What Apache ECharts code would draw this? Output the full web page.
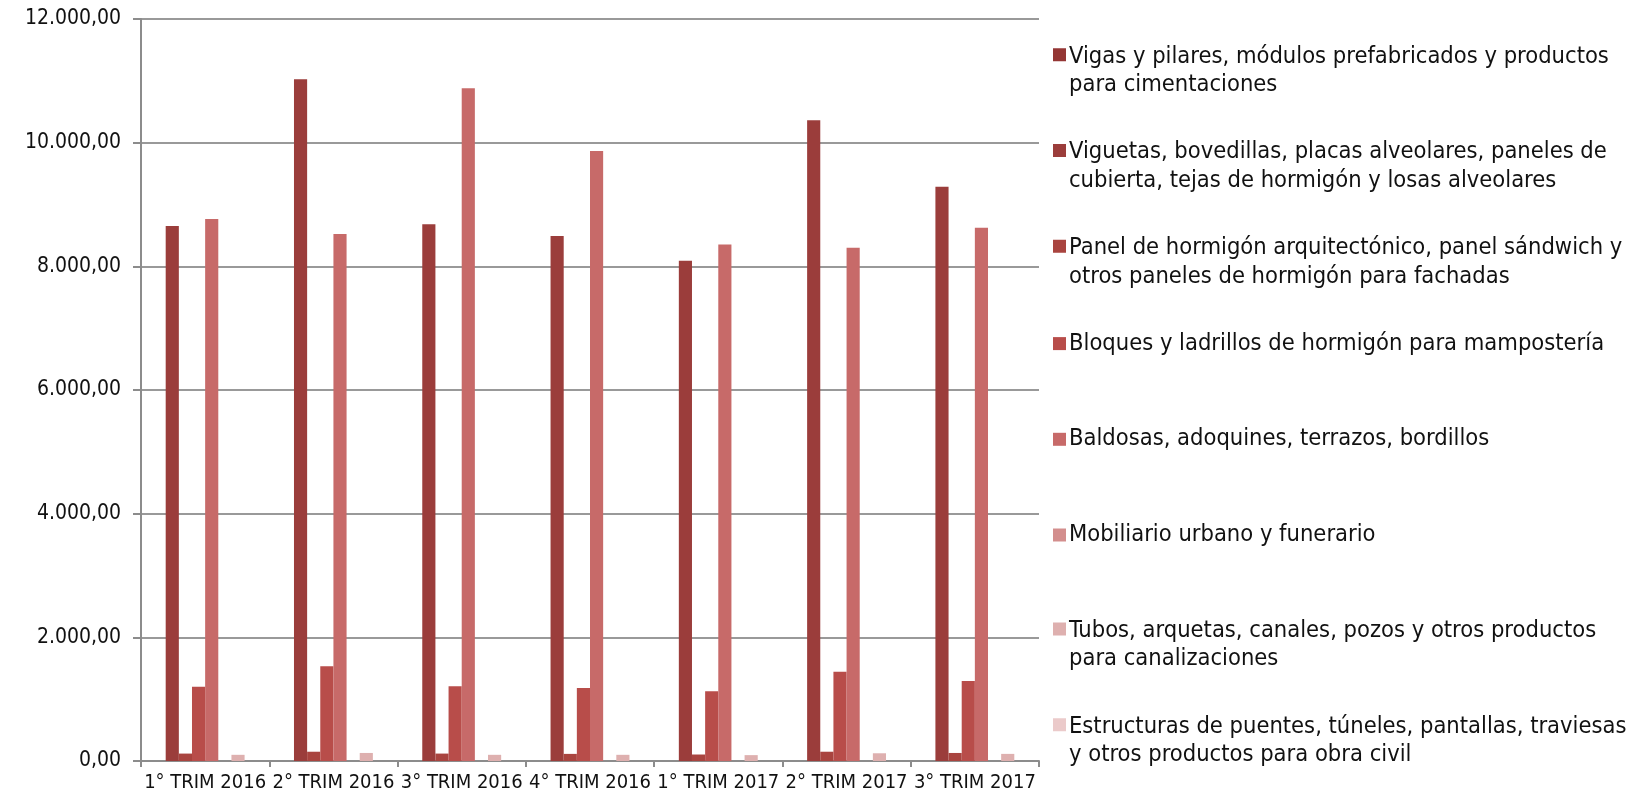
<!DOCTYPE html>
<html>
<head>
<meta charset="utf-8">
<script src="https://cdn.jsdelivr.net/npm/echarts@6/dist/echarts.min.js"></script>
<style>
html,body{margin:0;padding:0;background:#fff;}
#chart{width:1646px;height:799px;}
</style>
</head>
<body>
<div id="chart"></div>
<script>
var categories = ['1° TRIM 2016','2° TRIM 2016','3° TRIM 2016','4° TRIM 2016','1° TRIM 2017','2° TRIM 2017','3° TRIM 2017'];
var seriesNames = [
  'Vigas y pilares, módulos prefabricados y productos\npara cimentaciones',
  'Viguetas, bovedillas, placas alveolares, paneles de\ncubierta, tejas de hormigón y losas alveolares',
  'Panel de hormigón arquitectónico, panel sándwich y\notros paneles de hormigón para fachadas',
  'Bloques y ladrillos de hormigón para mampostería',
  'Baldosas, adoquines, terrazos, bordillos',
  'Mobiliario urbano y funerario',
  'Tubos, arquetas, canales, pozos y otros productos\npara canalizaciones',
  'Estructuras de puentes, túneles, pantallas, traviesas\ny otros productos para obra civil'
];
var vigas       = [0, 0, 0, 0, 0, 0, 0];
var viguetas    = [8652, 11025, 8680, 8491, 8090, 10362, 9288];
var paneles     = [120, 150, 120, 115, 105, 150, 130];
var bloques     = [1202, 1531, 1208, 1181, 1127, 1445, 1294];
var baldosas    = [8766, 8523, 10880, 9866, 8352, 8302, 8625];
var mobiliario  = [0, 0, 0, 0, 0, 0, 0];
var tubos       = [100, 130, 100, 100, 95, 125, 115];
var estructuras = [0, 0, 0, 0, 0, 0, 0];
var yTicks = [0, 2000, 4000, 6000, 8000, 10000, 12000];

var seriesData = [vigas, viguetas, paneles, bloques, baldosas, mobiliario, tubos, estructuras];
var colors = ['#943634','#9B3D3B','#A9443F','#B84D4A','#C76A69','#D38E8D','#DEB0AF','#EBCACA'];

function fmt(v){
  var s = Math.round(v).toString().replace(/\B(?=(\d{3})+(?!\d))/g, '.');
  return s + ',00';
}

var FONT = 'DejaVu Sans Condensed';
var lineH = 28.5;
var legends = seriesNames.map(function(name, i){
  var twoLine = name.indexOf('\n') >= 0;
  var h = twoLine ? lineH * 2 : lineH;
  return {
    data: [name],
    orient: 'vertical',
    left: 1048,
    top: 51.5 + 95.7 * i - lineH / 2,
    itemWidth: 13,
    itemHeight: twoLine ? h : 13,
    itemGap: 0,
    icon: twoLine ? 'path://M0,0L0.01,0 M0,6L13,6L13,19L0,19Z M0,57L0.01,57' : 'rect',
    symbolKeepAspect: false,
    selectedMode: false,
    textStyle: {fontFamily: FONT, fontSize: 23.5, color: '#111', lineHeight: lineH, padding: [0,0,0,-2]}
  };
});

var chart = echarts.init(document.getElementById('chart'), null, {renderer: 'canvas'});
chart.setOption({
  animation: false,
  color: colors,
  legend: legends,
  grid: {left: 141, right: 607, top: 19, bottom: 38, containLabel: false},
  xAxis: {
    type: 'category',
    data: categories,
    axisLine: {lineStyle: {color: '#8c8c8c', width: 2}},
    axisTick: {show: true, length: 6, lineStyle: {color: '#8c8c8c', width: 2}},
    axisLabel: {fontFamily: FONT, fontSize: 20, color: '#111', margin: 12, interval: 0}
  },
  yAxis: {
    type: 'value',
    min: yTicks[0],
    max: yTicks[yTicks.length - 1],
    interval: yTicks[1] - yTicks[0],
    axisLine: {show: true, lineStyle: {color: '#8c8c8c', width: 2}},
    axisTick: {show: true, length: 8, lineStyle: {color: '#8c8c8c', width: 2}},
    splitLine: {lineStyle: {color: '#999999', width: 2}},
    axisLabel: {fontFamily: FONT, fontSize: 21, color: '#111', margin: 20, formatter: fmt}
  },
  series: seriesData.map(function(d, i){
    return {
      name: seriesNames[i],
      type: 'bar',
      data: d,
      barGap: '0%',
      barCategoryGap: '18%',
      itemStyle: {color: colors[i], borderWidth: 0}
    };
  })
});
</script>
</body>
</html>
